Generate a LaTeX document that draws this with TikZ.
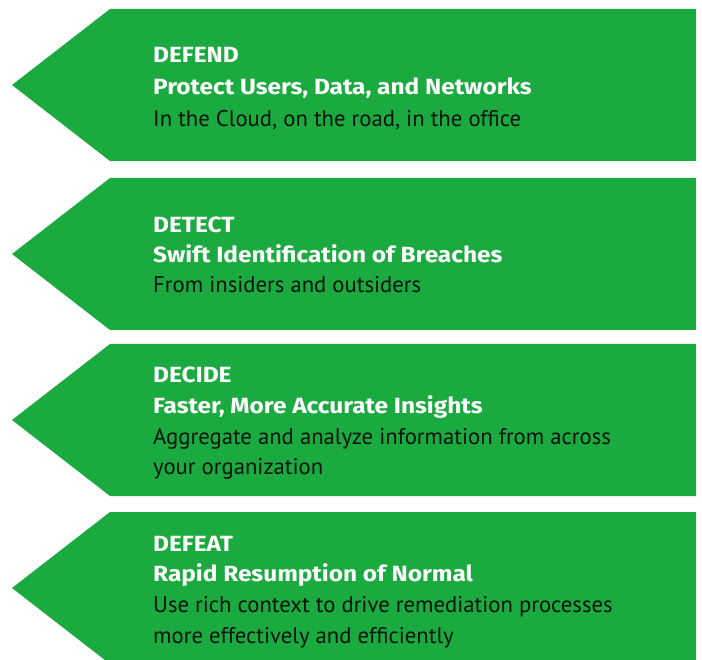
\documentclass[tikz,border=0pt]{standalone}
\usepackage{fontspec}
\setmainfont{PT Sans}
\newfontfamily\headfont{Fira Sans}[UprightFont={* Bold}, FakeStretch=1.11]
\definecolor{arrowgreen}{RGB}{26,170,64}
\definecolor{bodyink}{RGB}{10,20,12}
\tikzset{
  arrowshape/.style={fill=arrowgreen},
  headline/.style={anchor=base west, inner sep=0pt, text=white, font=\headfont\fontsize{22}{26}\selectfont},
  bodyline/.style={anchor=base west, inner sep=0pt, text=bodyink, font=\fontsize{22.7}{26}\selectfont},
}
\begin{document}
\begin{tikzpicture}[x=1pt,y=-1pt]
\useasboundingbox (0,0) rectangle (702,660);
\clip (0,0) rectangle (702,660);
\foreach \t in {9,178,344,512}{
  \fill[arrowshape] (110,\t) -- (696,\t) -- (696,\t+152) -- (110,\t+152) -- (12,\t+76) -- cycle;
}
% Block 1
\node[headline] (h1) at (153,63) {DEFEND};
\node[headline] (s1) at (153,94.5) {Protect Users, Data, and Networks};
\node[bodyline] (b1) at (153,126.5) {In the Cloud, on the road, in the office};
% Block 2
\node[headline] (h2) at (153,232.5) {DETECT};
\node[headline] (s2) at (153,262.5) {Swift Identification of Breaches};
\node[bodyline] (b2) at (153,293) {From insiders and outsiders};
% Block 3
\node[headline] (h3) at (153,382.5) {DECIDE};
\node[headline] (s3) at (153,413.5) {Faster, More Accurate Insights};
\node[bodyline] (b3a) at (153,444.5) {Aggregate and analyze information from across};
\node[bodyline] (b3b) at (153,474.5) {your organization};
% Block 4
\node[headline] (h4) at (153,551.5) {DEFEAT};
\node[headline] (s4) at (153,581.5) {Rapid Resumption of Normal};
\node[bodyline] (b4a) at (153,612.5) {Use rich context to drive remediation processes};
\node[bodyline] (b4b) at (153,643.5) {more effectively and efficiently};
\end{tikzpicture}
\end{document}
